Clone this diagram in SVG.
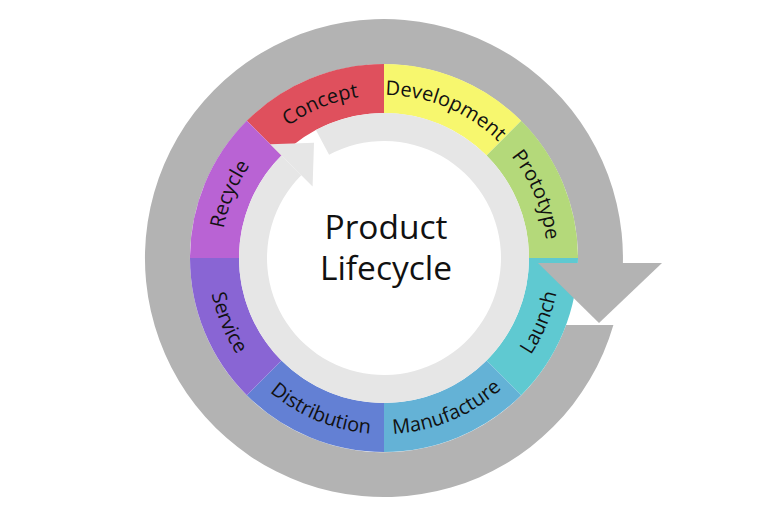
<svg xmlns="http://www.w3.org/2000/svg" width="768" height="512" viewBox="0 0 768 512">
<style>
.lbl{font-family:"Open Sans","Noto Sans","Liberation Sans",sans-serif;font-size:20px;fill:#111;}
.title{font-family:"Open Sans","Noto Sans","Liberation Sans",sans-serif;font-size:33.5px;fill:#111;text-anchor:middle;}
.outer{fill:#b3b3b3;}
.inner{fill:#e6e6e6;}
</style>
<defs>
<path id="pConcept" d="M239.42 182.73 A163 163 0 0 1 433.02 102.54"/>
<path id="pDevelopment" d="M334.98 102.54 A163 163 0 0 1 528.58 182.73"/>
<path id="pPrototype" d="M459.27 113.42 A163 163 0 0 1 539.46 307.02"/>
<path id="pRecycle" d="M228.54 307.02 A163 163 0 0 1 308.73 113.42"/>
<path id="pLaunch" d="M465.27 414.11 A176 176 0 0 0 551.85 205.08"/>
<path id="pManufacture" d="M331.08 425.85 A176 176 0 0 0 540.11 339.27"/>
<path id="pDistribution" d="M227.89 339.27 A176 176 0 0 0 436.92 425.85"/>
<path id="pService" d="M216.15 205.08 A176 176 0 0 0 302.73 414.11"/>
</defs>
<rect width="768" height="512" fill="#ffffff"/>
<g id="connectors">
<path id="outer-cycle-arrow-body" class="outer" d="M613.4 325 A239 239 0 1 1 622.9 263 L577.9 263 A194 194 0 1 0 566.1 325 Z"/>
</g>
<g id="concept"><path d="M246.82 120.82 A194 194 0 0 1 384 64 L384 113 A145 145 0 0 0 281.47 155.47 Z" fill="#df505d"/><text class="lbl"><textPath href="#pConcept" startOffset="50%" text-anchor="middle">Concept</textPath></text></g>
<g id="development"><path d="M384 64 A194 194 0 0 1 521.18 120.82 L486.53 155.47 A145 145 0 0 0 384 113 Z" fill="#f7f76e"/><text class="lbl"><textPath href="#pDevelopment" startOffset="50%" text-anchor="middle">Development</textPath></text></g>
<g id="prototype"><path d="M521.18 120.82 A194 194 0 0 1 578 258 L529 258 A145 145 0 0 0 486.53 155.47 Z" fill="#b4d97a"/><text class="lbl"><textPath href="#pPrototype" startOffset="50%" text-anchor="middle">Prototype</textPath></text></g>
<g id="launch"><path d="M578 258 A194 194 0 0 1 521.18 395.18 L486.53 360.53 A145 145 0 0 0 529 258 Z" fill="#5fc9d1"/><text class="lbl"><textPath href="#pLaunch" startOffset="50%" text-anchor="middle">Launch</textPath></text></g>
<g id="manufacture"><path d="M521.18 395.18 A194 194 0 0 1 384 452 L384 403 A145 145 0 0 0 486.53 360.53 Z" fill="#64b2d6"/><text class="lbl"><textPath href="#pManufacture" startOffset="50%" text-anchor="middle">Manufacture</textPath></text></g>
<g id="distribution"><path d="M384 452 A194 194 0 0 1 246.82 395.18 L281.47 360.53 A145 145 0 0 0 384 403 Z" fill="#6380d4"/><text class="lbl"><textPath href="#pDistribution" startOffset="50%" text-anchor="middle">Distribution</textPath></text></g>
<g id="service"><path d="M246.82 395.18 A194 194 0 0 1 190 258 L239 258 A145 145 0 0 0 281.47 360.53 Z" fill="#8965d4"/><text class="lbl"><textPath href="#pService" startOffset="50%" text-anchor="middle">Service</textPath></text></g>
<g id="recycle"><path d="M190 258 A194 194 0 0 1 246.82 120.82 L281.47 155.47 A145 145 0 0 0 239 258 Z" fill="#b963d4"/><text class="lbl"><textPath href="#pRecycle" startOffset="50%" text-anchor="middle">Recycle</textPath></text></g>
<g id="connectors-front">
<path id="inner-cycle-arrow" class="inner" d="M315.93 129.97 A145 145 0 1 1 281.47 155.47 L301.27 175.27 A117 117 0 1 0 329.07 154.70 Z"/>
<polygon class="inner" points="312.58,186.58 270.16,144.16 314,142.8"/>
<polygon id="outer-cycle-arrow-head" class="outer" points="538,263 662,263 599,323"/>
</g>
<g id="center">
<text class="title"><tspan x="386" y="239">Product</tspan><tspan x="386" y="280">Lifecycle</tspan></text>
</g>
</svg>
